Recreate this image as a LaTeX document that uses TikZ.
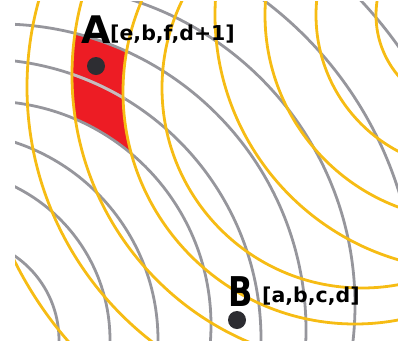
\documentclass[tikz,border=0pt]{standalone}
\usepackage{fontspec}
\setmainfont{DejaVu Sans}
\definecolor{ygold}{RGB}{246,188,20}
\definecolor{ring}{RGB}{150,150,156}
\definecolor{paler}{RGB}{200,188,190}
\definecolor{zone}{RGB}{237,28,36}
\definecolor{dotc}{RGB}{45,45,50}
\begin{document}
\begin{tikzpicture}[x=1pt,y=-1pt,
  grayring/.style={draw=ring,line width=2.8pt},
  goldring/.style={draw=ygold,line width=2.8pt},
  pointdot/.style={circle,fill=dotc,minimum size=18pt,inner sep=0pt},
  bigletter/.style={anchor=base west,inner sep=0pt,font=\bfseries\fontsize{38}{38}\selectfont},
  vectxt/.style={anchor=base west,inner sep=0pt,font=\bfseries\fontsize{20.5}{20.5}\selectfont}]
\useasboundingbox (0,0) rectangle (398,349);
\begin{scope}
  \clip (15,1) rectangle (398,340);
  % red zone
  \begin{scope}
    \clip (0,330) circle[radius=306pt];
    \clip (362,75) circle[radius=290pt];
    \clip (40,20) rectangle (160,180);
    \fill[zone] (40,20) rectangle (160,180);
    \fill[white] (-13,325) circle[radius=224pt];
    \fill[white] (355,92) circle[radius=232pt];
  \end{scope}
  % gray rings
  \foreach \cx/\cy/\r in {-43/340/102,-61/340/171,-50/340/208,-13/325/224,-19/339/280,0/330/306,35/305/320,35/305/381,35/305/446}
    \draw[grayring] (\cx,\cy) circle[radius=\r pt];
  % pale stretch of the ring crossing the red zone
  \coordinate (gc) at (-19,339);
  \draw[grayring,draw=paler] (gc) ++(-71.5:280) arc[start angle=-71.5, end angle=-59, radius=280];
  % gold rings
  \foreach \cx/\cy/\r in {355/92/380,349/87/322,362/75/290,355/92/232,362/88/200,470/15/255,470/15/205,470/15/154,470/15/94}
    \draw[goldring] (\cx,\cy) circle[radius=\r pt];
\end{scope}
\node[pointdot] (dotA) at (96,66) {};
\node[pointdot] (dotB) at (237,320) {};
\node[bigletter] (labA) at (81,43) {A};
\node[vectxt] (vecA) at (110,40) {[e,b,f,d+1]};
\node[bigletter,font=\bfseries\fontsize{41}{41}\selectfont] (labB) at (228,306) {\scalebox{0.78}[1]{B}};
\node[vectxt] (vecB) at (262,302) {[a,b,c,d]};
\end{tikzpicture}
\end{document}
